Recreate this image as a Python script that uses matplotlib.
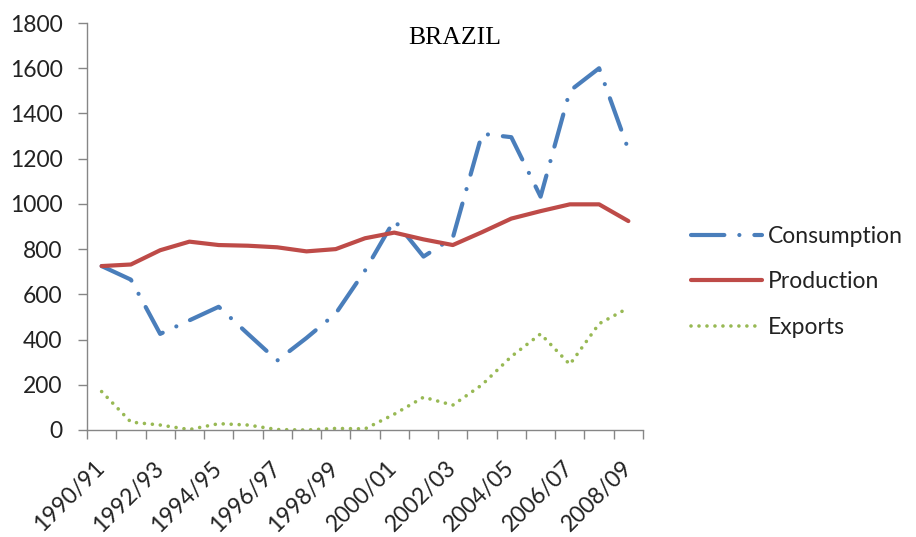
import matplotlib
matplotlib.use("Agg")
import matplotlib.pyplot as plt
import matplotlib.transforms as mtransforms
import numpy as np

# Brazil: consumption, production and exports by season
seasons = ["1990/91", "1991/92", "1992/93", "1993/94", "1994/95", "1995/96",
           "1996/97", "1997/98", "1998/99", "1999/00", "2000/01", "2001/02",
           "2002/03", "2003/04", "2004/05", "2005/06", "2006/07", "2007/08",
           "2008/09"]
consumption = [725, 665, 425, 485, 545, 425, 307, 407, 515, 705, 928, 767,
               850, 1310, 1295, 1032, 1500, 1600, 1240]
production = [725, 732, 795, 833, 818, 815, 808, 790, 800, 848, 873, 843,
              818, 875, 935, 968, 998, 998, 924]
exports = [170, 35, 22, 2, 28, 22, 2, 0, 7, 5, 70, 145, 110, 200, 325, 425,
           290, 470, 540]
y_ticks = [0, 200, 400, 600, 800, 1000, 1200, 1400, 1600, 1800]

blue = "#4A7EBB"
red = "#BE4B48"
green = "#98B954"
spine_gray = "#868686"
text_col = "#222222"
tick_font = "Lato"
fs = 16.5

fig = plt.figure(figsize=(9.16, 5.37), dpi=100)
ax = fig.add_axes([87 / 916, 1 - 430 / 537, 556 / 916, 407 / 537])

x = np.arange(len(seasons))
ax.plot(x, consumption, color=blue, lw=3, dash_capstyle="round",
        dashes=(8, 3.6, 0.01, 3.6), label="Consumption", solid_capstyle="round")
ax.plot(x, production, color=red, lw=3, solid_capstyle="round",
        solid_joinstyle="round", label="Production")
ax.plot(x, exports, color=green, lw=2.6, dash_capstyle="round",
        dashes=(0.01, 2.2), label="Exports")

ax.set_xlim(-0.5, len(seasons) - 0.5)
ax.set_ylim(0, 1800)
ax.set_yticks(y_ticks)
ax.set_yticklabels([str(v) for v in y_ticks], fontsize=fs, color=text_col,
                   family=tick_font)

# Tick marks at the category boundaries, labels on every other season
ax.set_xticks(np.arange(-0.5, len(seasons), 1.0))
ax.set_xticklabels([])
ax.set_xticks(x[::2], minor=True)
ax.set_xticklabels(seasons[::2], minor=True, rotation=45, ha="right",
                   va="center", rotation_mode="anchor", fontsize=fs,
                   color=text_col, family=tick_font)
shift = mtransforms.ScaledTranslation(12 / 100, 0, fig.dpi_scale_trans)
for lbl in ax.get_xticklabels(minor=True):
    lbl.set_transform(lbl.get_transform() + shift)
ax.tick_params(axis="x", which="minor", length=0, pad=25)
ax.tick_params(axis="x", which="major", length=6.5, color=spine_gray, width=1)
ax.tick_params(axis="y", length=6.5, color=spine_gray, width=1, pad=11)

for side in ("top", "right"):
    ax.spines[side].set_visible(False)
for side in ("left", "bottom"):
    ax.spines[side].set_color(spine_gray)
    ax.spines[side].set_linewidth(1)

ax.text(0.662, 0.963, "BRAZIL", transform=ax.transAxes, ha="center",
        va="center", fontsize=18.5, family="Liberation Serif", color="black")

leg = fig.legend(loc="center left", bbox_to_anchor=(670 / 916, 1 - 282 / 537),
                 frameon=False, handlelength=3.1,
                 handletextpad=0.26, labelspacing=1.05,
                 prop={"family": tick_font, "size": fs})
for t in leg.get_texts():
    t.set_color(text_col)

fig.savefig("out.png", dpi=100)
